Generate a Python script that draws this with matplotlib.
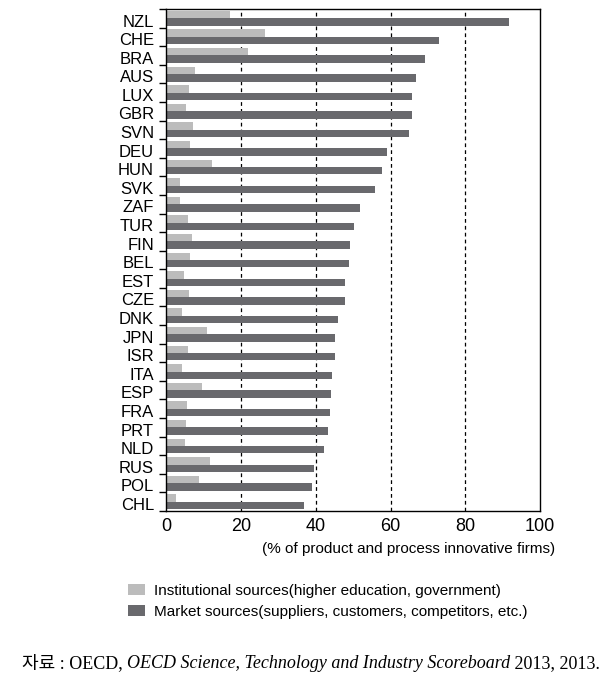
import numpy as np
import matplotlib.pyplot as plt
from matplotlib.ticker import FixedLocator

countries = ['NZL', 'CHE', 'BRA', 'AUS', 'LUX', 'GBR', 'SVN', 'DEU', 'HUN',
             'SVK', 'ZAF', 'TUR', 'FIN', 'BEL', 'EST', 'CZE', 'DNK', 'JPN',
             'ISR', 'ITA', 'ESP', 'FRA', 'PRT', 'NLD', 'RUS', 'POL', 'CHL']
institutional = [17.1, 26.5, 21.9, 7.6, 6.0, 5.2, 7.0, 6.2, 12.3,
                 3.6, 3.6, 5.7, 6.8, 6.2, 4.6, 6.0, 4.1, 10.8,
                 5.7, 4.1, 9.5, 5.4, 5.2, 4.9, 11.6, 8.7, 2.5]
market = [91.6, 72.9, 69.1, 66.9, 65.7, 65.7, 64.9, 59.0, 57.6,
          55.8, 51.7, 50.1, 49.1, 48.8, 47.7, 47.7, 45.9, 45.0,
          45.0, 44.2, 44.0, 43.7, 43.2, 42.1, 39.4, 38.9, 36.8]
xticks = [0, 20, 40, 60, 80, 100]

light = '#bcbcbc'
dark = '#69696d'
sans = ['Liberation Sans', 'DejaVu Sans']
serif = ['Liberation Serif', 'Noto Sans CJK KR']

fig = plt.figure(figsize=(6.15, 6.82), dpi=100)
ax = fig.add_axes([0.2707, 0.2507, 0.6075, 0.7361])

y = np.arange(len(countries))
h = 0.4
ax.barh(y - h / 2, institutional, height=h, color=light,
        label='Institutional sources(higher education, government)')
ax.barh(y + h / 2, market, height=h, color=dark,
        label='Market sources(suppliers, customers, competitors, etc.)')

ax.set_ylim(len(countries) - 0.5, -0.5)
ax.set_xlim(0, 100)

# dashed grid
for v in xticks[1:-1]:
    ax.axvline(v, color='black', linestyle=(0, (3, 2.5)), linewidth=0.9, zorder=0)

ax.yaxis.set_major_locator(FixedLocator(y + 0.12))
ax.set_yticklabels(countries, family=sans, fontsize=12)
ax.yaxis.set_minor_locator(FixedLocator(np.arange(len(countries) + 1) - 0.5))
ax.tick_params(axis='y', which='major', length=0, pad=9)
ax.tick_params(axis='y', which='minor', length=5, width=1)

ax.set_xticks(xticks)
ax.set_xticklabels([str(t) for t in xticks], family=sans, fontsize=13)
ax.tick_params(axis='x', length=0, pad=5)

for s in ax.spines.values():
    s.set_linewidth(1.0)

fig.text(555 / 615, 1 - 549 / 682, '(% of product and process innovative firms)',
         ha='right', va='center', family=sans, fontsize=11)

fig.legend(loc='upper left', bbox_to_anchor=(122 / 615, 1 - 578 / 682),
           frameon=False, prop={'family': sans, 'size': 11},
           handlelength=1.1, handleheight=0.7, handletextpad=0.6,
           labelspacing=0.45, borderaxespad=0)

# source line, title in italics
fs = 13
pieces = [('자료 : OECD, ', 'normal'),
          ('OECD Science, Technology and Industry Scoreboard', 'italic'),
          (' 2013, 2013.', 'normal')]
prev = None
for txt, st in pieces:
    if prev is None:
        prev = fig.text(22 / 615, 1 - 668 / 682, txt, family=serif,
                        fontsize=fs, style=st, va='baseline')
    else:
        prev = ax.annotate(txt, xy=(1, 0), xycoords=prev, va='bottom',
                           family=serif, fontsize=fs, style=st,
                           annotation_clip=False)

fig.savefig('out.png', dpi=100)
